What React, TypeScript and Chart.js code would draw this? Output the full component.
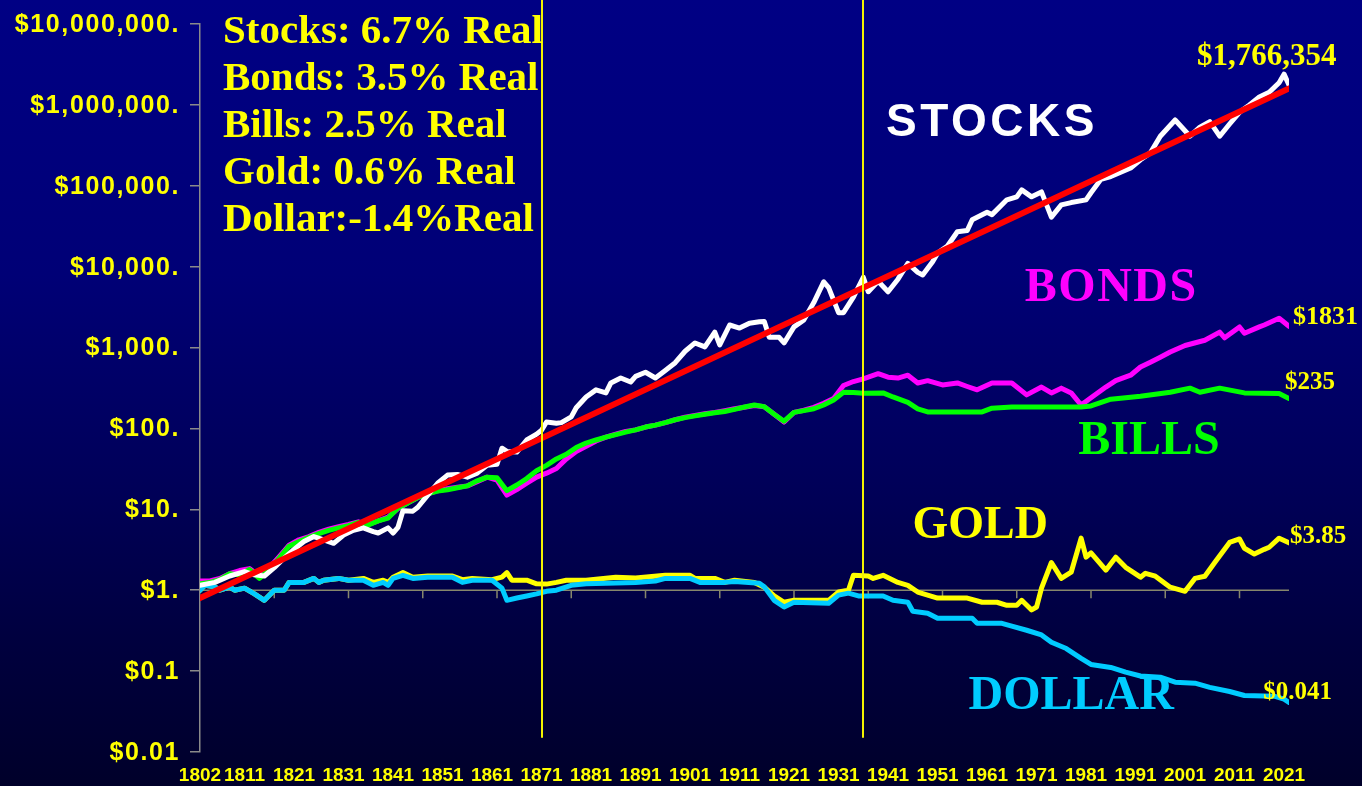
import React, { useEffect, useRef } from 'react';
import { Chart, registerables } from 'chart.js';

Chart.register(...registerables);

// ---------- data ----------
const xTickYears = [1802, 1811, 1821, 1831, 1841, 1851, 1861, 1871, 1881, 1891, 1901, 1911, 1921, 1931, 1941, 1951, 1961, 1971, 1981, 1991, 2001, 2011, 2021];
const dollarAxisTickYears = [1817, 1832, 1847, 1862, 1877, 1892, 1907, 1922, 1937, 1952, 1967, 1982, 1997, 2012];
const yTickValues = [0.01, 0.1, 1, 10, 100, 1000, 10000, 100000, 1000000, 10000000];
const yTickLabels = ['$0.01', '$0.1', '$1.', '$10.', '$100.', '$1,000.', '$10,000.', '$100,000.', '$1,000,000.', '$10,000,000.'];
const markerYears = [1871, 1936];

const trendYears = [1802, 2022];
const trendValues = [0.8, 1600000];

const stocksYears = [1802, 1805, 1808, 1811, 1813, 1815, 1817, 1819, 1821, 1823, 1825, 1827, 1829, 1831, 1833, 1835, 1837, 1838, 1840, 1841, 1842, 1843, 1845, 1846, 1848, 1850, 1852, 1854, 1856, 1858, 1860, 1862, 1863, 1864, 1866, 1868, 1870, 1871, 1872, 1874, 1875, 1877, 1878, 1880, 1882, 1884, 1885, 1887, 1889, 1890, 1892, 1894, 1896, 1898, 1900, 1902, 1904, 1906, 1907, 1909, 1911, 1913, 1915, 1916, 1917, 1919, 1920, 1922, 1924, 1926, 1928, 1929, 1931, 1932, 1934, 1936, 1937, 1939, 1941, 1943, 1945, 1947, 1948, 1950, 1951, 1953, 1955, 1957, 1958, 1961, 1962, 1965, 1967, 1968, 1970, 1972, 1974, 1976, 1978, 1981, 1982, 1984, 1986, 1988, 1990, 1992, 1994, 1996, 1999, 2002, 2004, 2006, 2008, 2010, 2012, 2014, 2016, 2018, 2020, 2021, 2022];
const stocksValues = [1.15, 1.25, 1.5, 1.7, 1.55, 1.5, 1.9, 2.5, 3.2, 4.0, 4.6, 4.2, 3.8, 4.8, 5.5, 5.9, 5.3, 5.1, 5.9, 5.1, 6.0, 9.6, 9.5, 10.6, 15, 21, 26.5, 27, 25, 28, 35, 36, 57, 52, 51, 72, 85, 95, 120, 116, 118, 139, 180, 245, 300, 275, 365, 420, 375, 440, 495, 420, 520, 650, 900, 1140, 1020, 1550, 1080, 1900, 1740, 2000, 2080, 2100, 1340, 1340, 1140, 1800, 2200, 3600, 6500, 5500, 2700, 2700, 4200, 7400, 4900, 6600, 4900, 7000, 11000, 8500, 7900, 11500, 14700, 18000, 27000, 28000, 38000, 47000, 44000, 67000, 73000, 89000, 73000, 84000, 41000, 58000, 62000, 67000, 82000, 120000, 130000, 147000, 166000, 210000, 255000, 410000, 650000, 410000, 530000, 620000, 410000, 580000, 810000, 1000000, 1250000, 1430000, 1880000, 2400000, 1766354];

const bondsYears = [1802, 1804, 1806, 1808, 1810, 1812, 1814, 1816, 1818, 1820, 1822, 1824, 1826, 1828, 1830, 1832, 1834, 1836, 1838, 1840, 1842, 1844, 1846, 1848, 1850, 1852, 1854, 1856, 1858, 1860, 1862, 1864, 1866, 1868, 1870, 1872, 1874, 1876, 1878, 1880, 1882, 1884, 1886, 1888, 1890, 1892, 1894, 1896, 1898, 1900, 1902, 1904, 1906, 1908, 1910, 1912, 1914, 1916, 1918, 1920, 1922, 1924, 1926, 1928, 1930, 1932, 1934, 1936, 1939, 1941, 1943, 1945, 1947, 1949, 1952, 1955, 1957, 1959, 1962, 1966, 1969, 1972, 1974, 1976, 1978, 1980, 1982, 1985, 1987, 1990, 1992, 1994, 1996, 1998, 2001, 2005, 2008, 2009, 2012, 2013, 2016, 2017, 2020, 2022];
const bondsValues = [1.3, 1.3, 1.4, 1.6, 1.75, 1.85, 1.5, 1.9, 2.6, 3.6, 4.2, 4.6, 5.2, 5.7, 6.1, 6.5, 7.0, 6.5, 7.2, 8.0, 10.2, 12, 14, 15.5, 17, 18, 18.8, 19.5, 22, 25, 23, 15, 17.5, 21, 25, 28, 32, 42, 52, 60, 70, 78, 85, 92, 96, 104, 110, 118, 128, 138, 145, 152, 158, 166, 175, 183, 192, 186, 150, 120, 158, 168, 182, 205, 235, 340, 380, 410, 475, 430, 420, 455, 365, 390, 345, 365, 330, 300, 365, 365, 260, 325, 275, 315, 275, 195, 240, 325, 390, 455, 575, 660, 760, 880, 1060, 1230, 1550, 1320, 1800, 1500, 1800, 1900, 2300, 1831];

const billsYears = [1802, 1804, 1806, 1808, 1810, 1812, 1814, 1816, 1818, 1820, 1822, 1824, 1826, 1828, 1830, 1832, 1834, 1836, 1838, 1840, 1842, 1844, 1846, 1848, 1850, 1852, 1854, 1856, 1858, 1860, 1862, 1864, 1866, 1868, 1870, 1872, 1874, 1876, 1878, 1880, 1882, 1884, 1886, 1888, 1890, 1892, 1894, 1896, 1898, 1900, 1902, 1904, 1906, 1908, 1910, 1912, 1914, 1916, 1918, 1920, 1922, 1924, 1926, 1928, 1930, 1932, 1934, 1936, 1940, 1942, 1945, 1947, 1949, 1955, 1960, 1962, 1966, 1973, 1980, 1982, 1986, 1992, 1998, 2002, 2004, 2008, 2013, 2020, 2022];
const billsValues = [1.2, 1.25, 1.35, 1.6, 1.55, 1.8, 1.4, 1.8, 2.5, 3.5, 4.0, 4.5, 5.0, 5.5, 5.9, 6.3, 6.9, 6.4, 7.2, 7.8, 10.4, 12, 14, 15.5, 16.8, 17.5, 18.5, 19.5, 22.5, 25, 24.5, 17, 20, 24, 30, 35, 42, 48, 58, 66, 72, 78, 84, 90, 96, 104, 110, 118, 128, 136, 143, 150, 156, 162, 172, 184, 195, 186, 150, 123, 158, 166, 175, 195, 225, 280, 278, 272, 275, 245, 210, 175, 160, 160, 160, 178, 184, 184, 184, 190, 230, 250, 280, 315, 280, 315, 275, 270, 235];

const goldYears = [1802, 1803, 1805, 1806, 1808, 1809, 1811, 1813, 1815, 1817, 1819, 1820, 1823, 1825, 1826, 1827, 1830, 1832, 1835, 1837, 1839, 1840, 1841, 1843, 1845, 1848, 1853, 1855, 1857, 1861, 1863, 1864, 1865, 1868, 1870, 1872, 1874, 1876, 1880, 1886, 1890, 1896, 1901, 1902, 1906, 1908, 1910, 1914, 1916, 1918, 1920, 1922, 1929, 1931, 1933, 1934, 1937, 1938, 1940, 1943, 1945, 1947, 1951, 1957, 1960, 1963, 1965, 1967, 1968, 1970, 1971, 1972, 1974, 1976, 1978, 1980, 1981, 1982, 1985, 1987, 1989, 1992, 1993, 1995, 1998, 2001, 2003, 2005, 2007, 2010, 2012, 2013, 2015, 2017, 2018, 2020, 2022];
const goldValues = [1.0, 1.15, 1.1, 1.0, 1.09, 1.0, 1.06, 0.9, 0.75, 1.0, 1.0, 1.25, 1.25, 1.4, 1.25, 1.33, 1.4, 1.33, 1.4, 1.25, 1.33, 1.25, 1.45, 1.65, 1.45, 1.5, 1.5, 1.35, 1.4, 1.35, 1.45, 1.65, 1.33, 1.33, 1.2, 1.19, 1.25, 1.33, 1.33, 1.45, 1.42, 1.53, 1.53, 1.4, 1.4, 1.25, 1.33, 1.25, 1.09, 0.85, 0.71, 0.75, 0.75, 0.95, 1.0, 1.53, 1.5, 1.4, 1.53, 1.25, 1.15, 0.95, 0.8, 0.8, 0.71, 0.71, 0.65, 0.65, 0.75, 0.57, 0.62, 1.06, 2.2, 1.4, 1.67, 4.4, 2.56, 2.9, 1.77, 2.56, 1.92, 1.45, 1.62, 1.49, 1.09, 0.97, 1.4, 1.49, 2.2, 3.9, 4.3, 3.3, 2.8, 3.2, 3.4, 4.4, 3.85];

const dollarYears = [1802, 1803, 1805, 1806, 1808, 1809, 1811, 1813, 1815, 1817, 1819, 1820, 1823, 1825, 1826, 1827, 1830, 1832, 1835, 1837, 1839, 1840, 1841, 1843, 1845, 1848, 1853, 1855, 1857, 1861, 1863, 1864, 1866, 1868, 1870, 1872, 1874, 1877, 1880, 1884, 1890, 1894, 1896, 1901, 1903, 1908, 1910, 1915, 1916, 1918, 1920, 1922, 1929, 1931, 1933, 1935, 1940, 1942, 1945, 1946, 1949, 1951, 1958, 1959, 1964, 1966, 1969, 1972, 1974, 1977, 1980, 1982, 1986, 1989, 1992, 1996, 1999, 2003, 2006, 2010, 2013, 2019, 2021, 2022];
const dollarValues = [1.0, 1.15, 1.1, 1.0, 1.09, 1.0, 1.06, 0.9, 0.75, 1.0, 1.0, 1.25, 1.25, 1.4, 1.25, 1.33, 1.4, 1.33, 1.33, 1.15, 1.25, 1.15, 1.4, 1.53, 1.4, 1.45, 1.45, 1.25, 1.33, 1.33, 1.06, 0.75, 0.8, 0.85, 0.9, 0.97, 1.0, 1.15, 1.2, 1.22, 1.25, 1.3, 1.4, 1.4, 1.25, 1.25, 1.28, 1.22, 1.1, 0.75, 0.62, 0.71, 0.69, 0.87, 0.92, 0.85, 0.85, 0.75, 0.71, 0.55, 0.52, 0.45, 0.45, 0.39, 0.39, 0.36, 0.32, 0.28, 0.227, 0.19, 0.144, 0.121, 0.111, 0.097, 0.087, 0.084, 0.073, 0.071, 0.063, 0.056, 0.05, 0.049, 0.045, 0.041];

const summaryLines = ['Stocks: 6.7% Real', 'Bonds: 3.5% Real', 'Bills: 2.5% Real', 'Gold: 0.6% Real', 'Dollar:-1.4%Real'];

// ---------- styles ----------
const SANS = "'Liberation Sans', Arial, sans-serif";
const SERIF = "'Liberation Serif', 'Times New Roman', serif";
const YELLOW = '#ffff00';

type Note = { text: string; year: number; value: number; color: string; font: string; spacing: number; align: CanvasTextAlign };

const seriesNotes: Note[] = [
  { text: 'STOCKS', year: 1962, value: 600000, color: '#ffffff', font: `bold 46px ${SANS}`, spacing: 3.5, align: 'center' },
  { text: 'BONDS', year: 1986.1, value: 5300, color: '#ff00ff', font: `bold 48px ${SERIF}`, spacing: 1.5, align: 'center' },
  { text: 'BILLS', year: 1993.7, value: 68, color: '#00ff00', font: `bold 48px ${SERIF}`, spacing: 0, align: 'center' },
  { text: 'GOLD', year: 1959.6, value: 6.2, color: YELLOW, font: `bold 46px ${SERIF}`, spacing: 0, align: 'center' },
  { text: 'DOLLAR', year: 1978, value: 0.049, color: '#00ccff', font: `bold 48px ${SERIF}`, spacing: 0, align: 'center' },
  { text: '$1,766,354', year: 2003.4, value: 3900000, color: YELLOW, font: `bold 31px ${SERIF}`, spacing: 0, align: 'left' },
  { text: '$1831', year: 2022.8, value: 2400, color: YELLOW, font: `bold 26px ${SERIF}`, spacing: 0, align: 'left' },
  { text: '$235', year: 2021.2, value: 372, color: YELLOW, font: `bold 25px ${SERIF}`, spacing: 0, align: 'left' },
  { text: '$3.85', year: 2022.2, value: 4.56, color: YELLOW, font: `bold 25px ${SERIF}`, spacing: 0, align: 'left' },
  { text: '$0.041', year: 2016.8, value: 0.0537, color: YELLOW, font: `bold 25px ${SERIF}`, spacing: 0, align: 'left' },
];

const toPoints = (xs: number[], ys: number[]) => xs.map((x, i) => ({ x, y: ys[i] }));

const lineDs = (label: string, xs: number[], ys: number[], color: string, width: number) => ({
  label,
  data: toPoints(xs, ys),
  borderColor: color,
  backgroundColor: color,
  borderWidth: width,
  pointRadius: 0,
  tension: 0,
  fill: false,
  borderJoinStyle: 'round' as const,
  borderCapStyle: 'round' as const,
});

const decorPlugin = {
  id: 'decor',
  beforeDatasetsDraw(chart: any) {
    const { ctx, chartArea, scales } = chart;
    const x = scales.x;
    const y = scales.y;
    const y1 = y.getPixelForValue(1);
    ctx.save();
    ctx.strokeStyle = '#86866c';
    ctx.lineWidth = 1.5;
    ctx.beginPath();
    ctx.moveTo(chartArea.left, y1);
    ctx.lineTo(chartArea.right, y1);
    dollarAxisTickYears.forEach((yr) => {
      const px = x.getPixelForValue(yr);
      ctx.moveTo(px, y1);
      ctx.lineTo(px, y1 + 8);
    });
    ctx.stroke();
    ctx.restore();
  },
  afterDatasetsDraw(chart: any) {
    const { ctx, scales } = chart;
    const x = scales.x;
    const y = scales.y;
    ctx.save();
    ctx.strokeStyle = '#f2f200';
    ctx.lineWidth = 2;
    markerYears.forEach((yr) => {
      const px = Math.round(x.getPixelForValue(yr));
      ctx.beginPath();
      ctx.moveTo(px, y.getPixelForValue(20000000));
      ctx.lineTo(px, y.getPixelForValue(0.015));
      ctx.stroke();
    });
    ctx.restore();
  },
  afterDraw(chart: any) {
    const { ctx, chartArea, scales } = chart;
    const x = scales.x;
    const y = scales.y;
    ctx.save();
    // y tick labels
    ctx.font = `bold 25px ${SANS}`;
    ctx.fillStyle = YELLOW;
    ctx.textAlign = 'right';
    ctx.textBaseline = 'middle';
    (ctx as any).letterSpacing = '1.6px';
    y.ticks.forEach((t: any, i: number) => {
      const py = y.getPixelForValue(t.value);
      ctx.fillText(yTickLabels[i] ?? '', y.right - 20, py + 1);
    });
    // summary block
    (ctx as any).letterSpacing = '0px';
    ctx.font = `bold 41px ${SERIF}`;
    ctx.textAlign = 'left';
    summaryLines.forEach((line, i) => {
      ctx.fillText(line, chartArea.left + 23, chartArea.top + 8 + i * 47);
    });
    // series notes
    seriesNotes.forEach((n) => {
      (ctx as any).letterSpacing = `${n.spacing}px`;
      ctx.font = n.font;
      ctx.fillStyle = n.color;
      ctx.textAlign = n.align;
      ctx.fillText(n.text, x.getPixelForValue(n.year), y.getPixelForValue(n.value));
    });
    (ctx as any).letterSpacing = '0px';
    ctx.restore();
  },
};

export default function App() {
  const canvasRef = useRef<HTMLCanvasElement | null>(null);

  useEffect(() => {
    document.body.style.margin = '0';
    const canvas = canvasRef.current;
    if (!canvas) return;
    const chart = new Chart(canvas, {
      type: 'line',
      data: {
        datasets: [
          lineDs('Trend', trendYears, trendValues, '#ff0000', 6),
          lineDs('Stocks', stocksYears, stocksValues, '#ffffff', 5),
          lineDs('Dollar', dollarYears, dollarValues, '#00ccff', 5),
          lineDs('Gold', goldYears, goldValues, '#ffff00', 5),
          lineDs('Bills', billsYears, billsValues, '#00ff00', 5),
          lineDs('Bonds', bondsYears, bondsValues, '#ff00ff', 5),
        ] as any,
      },
      options: {
        responsive: false,
        animation: false,
        devicePixelRatio: 1,
        layout: { padding: { top: 24, right: 73, left: 0, bottom: 0 } },
        plugins: { legend: { display: false }, tooltip: { enabled: false } },
        scales: {
          x: {
            type: 'linear',
            min: 1802,
            max: 2022,
            afterBuildTicks: (s: any) => {
              s.ticks = xTickYears.map((v) => ({ value: v }));
            },
            afterFit: (s: any) => {
              s.height = 34;
            },
            grid: { display: false, drawTicks: false },
            border: { display: false },
            ticks: {
              autoSkip: false,
              maxRotation: 0,
              minRotation: 0,
              padding: 12,
              color: YELLOW,
              font: { family: SANS, weight: 'bold', size: 19 },
              callback: (v: any) => String(v),
            },
          },
          y: {
            type: 'logarithmic',
            min: 0.01,
            max: 10000000,
            afterBuildTicks: (s: any) => {
              s.ticks = yTickValues.map((v) => ({ value: v }));
            },
            afterFit: (s: any) => {
              s.width = 200;
            },
            grid: { drawOnChartArea: false, tickLength: 10, color: '#8a8a8a', lineWidth: 1.5 },
            border: { color: '#8a8a8a', width: 1.5 },
            ticks: { display: false },
          },
        },
      } as any,
      plugins: [decorPlugin],
    });
    return () => chart.destroy();
  }, []);

  return (
    <div
      style={{
        position: 'fixed',
        left: 0,
        top: 0,
        width: 1362,
        height: 786,
        background: 'linear-gradient(to bottom, rgb(0,0,132) 0%, rgb(0,0,118) 35%, rgb(0,0,88) 62%, rgb(0,0,62) 82%, rgb(0,0,42) 100%)',
      }}
    >
      <canvas ref={canvasRef} width={1362} height={786} style={{ display: 'block' }} />
    </div>
  );
}
